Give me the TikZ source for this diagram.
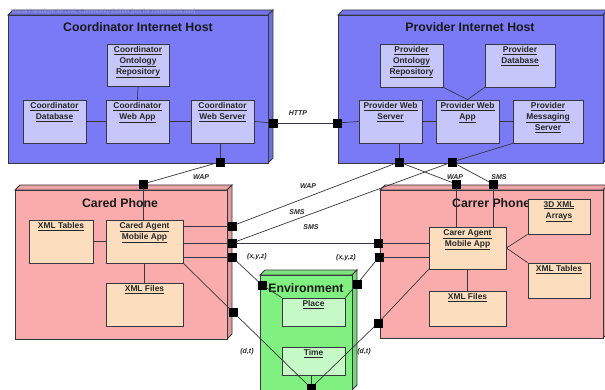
\documentclass[tikz,border=0pt]{standalone}
\usepackage{fontspec}
\setmainfont{Liberation Sans}
\usetikzlibrary{fit}

\definecolor{hostblue}{RGB}{122,122,246}
\definecolor{hostpart}{RGB}{198,198,250}
\definecolor{phonepink}{RGB}{250,172,172}
\definecolor{phonepart}{RGB}{252,222,190}
\definecolor{envgreen}{RGB}{128,240,128}
\definecolor{envpart}{RGB}{198,250,198}
\definecolor{edgegray}{RGB}{55,55,65}
\definecolor{markgray}{RGB}{150,150,205}

\tikzset{
  outline/.style={draw=edgegray, line width=0.8pt},
  wire/.style={draw=edgegray, line width=0.7pt},
  port/.style={fill=black, draw=black, minimum size=7.5pt, inner sep=0pt, line width=0.3pt},
  nodetitle/.style={font=\bfseries\fontsize{12.3}{14}\selectfont, text=black!90, inner sep=0pt},
  parttext/.style={font=\bfseries\fontsize{8.4}{11}\selectfont, align=center, text=black!85},
  wirelabel/.style={font=\bfseries\itshape\fontsize{7}{8}\selectfont, inner sep=0pt, text=black!85},
}

% deployment node drawn as a box with a top face and a right side face
\newcommand{\solidbox}[6]{%
  \draw[outline, fill=#6!95!black] (#2,#3) -- ++(5,-5) -- ({#4+5},{#3-5}) -- (#4,#3) -- cycle;
  \draw[outline, fill=#6!90!black] (#4,#3) -- ({#4+5},{#3-5}) -- ({#4+5},{#5-5}) -- (#4,#5) -- cycle;
  \node[outline, fill=#6, inner sep=0pt, fit={(#2,#3) (#4,#5)}] (#1) {};
}
% component box with its underlined name at the top
\newcommand{\partbox}[7]{%
  \node[outline, fill=#6, inner sep=0pt, fit={(#2,#3) (#4,#5)},
        label={[parttext, anchor=north, inner sep=2.5pt]north:{#7}}] (#1) {};
}

\begin{document}
\begin{tikzpicture}[x=1pt,y=-1pt]
\clip (0,0) rectangle (605,390);
\fill[white] (0,0) rectangle (605,390);

% ---- deployment nodes
\solidbox{chost}{8}{15}{268}{163}{hostblue}
\solidbox{phost}{338}{15}{603}{163}{hostblue}
\solidbox{cphone}{15}{190}{227}{339}{phonepink}
\solidbox{bphone}{380}{190}{603}{338}{phonepink}
\solidbox{env}{260}{275}{352}{390}{envgreen}

\node[font=\fontsize{6}{6}\selectfont, text=markgray, anchor=west, inner sep=0pt] (mark) at (11,11.5)
  {Visual Paradigm for UML Community Edition [not for commercial use]};

\node[nodetitle] (chostT) at (138,27) {Coordinator Internet Host};
\node[nodetitle] (phostT) at (470,27) {Provider Internet Host};
\node[nodetitle] (cphoneT) at (120,203) {Cared Phone};
\node[nodetitle, anchor=west] (bphoneT) at (452,203) {Carrer Phone};
\node[nodetitle] (envT) at (306,288) {Environment};

% ---- components
\partbox{cor}{107}{44}{169}{86}{hostpart}{\underline{Coordinator}\\\underline{Ontology}\\\underline{Repository}}
\partbox{cdb}{23}{100}{86}{143}{hostpart}{\underline{Coordinator}\\\underline{Database}}
\partbox{cwa}{106}{100}{169}{143}{hostpart}{\underline{Coordinator}\\\underline{Web App}}
\partbox{cws}{191}{100}{254}{143}{hostpart}{\underline{Coordinator}\\\underline{Web Server}}

\partbox{por}{380}{44}{443}{87}{hostpart}{\underline{Provider}\\\underline{Ontology}\\\underline{Repository}}
\partbox{pdb}{485}{44}{555}{87}{hostpart}{\underline{Provider}\\\underline{Database}}
\partbox{pws}{359}{100}{422}{143}{hostpart}{\underline{Provider Web}\\\underline{Server}}
\partbox{pwa}{436}{100}{499}{143}{hostpart}{\underline{Provider Web}\\\underline{App}}
\partbox{pms}{513}{100}{583}{143}{hostpart}{\underline{Provider}\\\underline{Messaging}\\\underline{Server}}

\partbox{cxt}{29}{220}{93}{263}{phonepart}{\underline{XML Tables}}
\partbox{cam}{106}{220}{183}{263}{phonepart}{\underline{Cared Agent}\\\underline{Mobile App}}
\partbox{cxf}{106}{283}{183}{326}{phonepart}{\underline{XML Files}}

\partbox{b3d}{528}{199}{590}{234}{phonepart}{\underline{3D XML}\\\underline{Arrays}}
\partbox{bam}{429}{227}{506}{269}{phonepart}{\underline{Carer Agent}\\\underline{Mobile App}}
\partbox{bxt}{528}{263}{590}{298}{phonepart}{\underline{XML Tables}}
\partbox{bxf}{429}{291}{506}{326}{phonepart}{\underline{XML Files}}

\partbox{place}{282}{298}{345}{326}{envpart}{\underline{Place}}
\partbox{time}{282}{347}{345}{375}{envpart}{\underline{Time}}

% ---- ports
\node[port] (pC1) at (273,123) {};
\node[port] (pC2) at (220,162) {};
\node[port] (pP1) at (337,123) {};
\node[port] (pP2) at (399,162) {};
\node[port] (pP3) at (452,162) {};
\node[port] (pA0) at (143,184) {};
\node[port] (pA1) at (232,226) {};
\node[port] (pA2) at (232,243) {};
\node[port] (pA3) at (232,257) {};
\node[port] (pA4) at (233,312) {};
\node[port] (pB0) at (456,184) {};
\node[port] (pB1) at (493,184) {};
\node[port] (pB2) at (378,243) {};
\node[port] (pB3) at (379,257) {};
\node[port] (pB4) at (378,323) {};
\node[port] (pE1) at (262,285) {};
\node[port] (pE2) at (357,284) {};
\node[port] (pE3) at (311,388) {};

% ---- connectors inside the hosts
\draw[wire] (cdb.east) -- (cwa.west);
\draw[wire] (cwa.east) -- (cws.west);
\draw[wire] (cor.south) -- (cwa.north);
\draw[wire] (cws.east) -- (pC1.center);
\draw[wire] (pC2.center) -- (pC2 |- cws.south);

\draw[wire] (pP1.center) -- (pws.west);
\draw[wire] (pws.east) -- (pwa.west);
\draw[wire] (pwa.east) -- (pms.west);
\draw[wire] (por.south east) -- (pwa.north);
\draw[wire] (pdb.south west) -- (pwa.north);
\draw[wire] (pP2.center) -- (pP2 |- pws.south);
\draw[wire] (pP3.center) -- (pms.south west);

% ---- connectors inside the phones
\draw[wire] (cxt.east) -- (cam.west);
\draw[wire] (cam.south) -- (cxf.north);
\draw[wire] (pA0.center) -- (pA0 |- cam.north);
\draw[wire] (pA1.center) -- (pA1 -| cam.east);
\draw[wire] (pA2.center) -- (pA2 -| cam.east);
\draw[wire] (pA3.center) -- (pA3 -| cam.east);

\draw[wire] (bam.east) -- (b3d.south west);
\draw[wire] (bam.east) -- (bxt.north west);
\draw[wire] (bam.south) -- (bxf.north);
\draw[wire] (pB0.center) -- (pB0 |- bam.north);
\draw[wire] (pB1.center) -- (pB1 |- bam.north);
\draw[wire] (pB2.center) -- (pB2 -| bam.west);
\draw[wire] (pB3.center) -- (pB3 -| bam.west);

% ---- links between the nodes
\draw[wire] (pC1.center) -- (pP1.center);
\draw[wire] (pC2.center) -- (pA0.center);
\draw[wire] (pP2.center) -- (pA1.center);
\draw[wire] (pP3.center) -- (pA2.center);
\draw[wire] (pA2.center) -- (pB2.center);
\draw[wire] (pP2.center) -- (pB0.center);
\draw[wire] (pP3.center) -- (pB1.center);

\draw[wire] (pA3.center) -- (pE1.center) -- (place.north west);
\draw[wire] (pB3.center) -- (pE2.center) -- (place.north east);
\draw[wire] (cam.south east) -- (pA4.center) -- (pE3.center);
\draw[wire] (bam.south west) -- (pB4.center) -- (pE3.center);
\draw[wire] (pE3.center) -- (pE3 |- time.south);

% ports drawn again over the link ends
\foreach \p in {pC1,pC2,pP1,pP2,pP3,pA0,pA1,pA2,pA3,pA4,pB0,pB1,pB2,pB3,pB4,pE1,pE2,pE3}
  \fill[black] (\p.south west) rectangle (\p.north east);

% ---- link labels
\node[wirelabel] (lhttp) at (298,113) {HTTP};
\node[wirelabel] (lwap1) at (201,177) {WAP};
\node[wirelabel] (lwap2) at (308,186) {WAP};
\node[wirelabel] (lsms1) at (297,212) {SMS};
\node[wirelabel] (lsms2) at (311,227) {SMS};
\node[wirelabel] (lwap3) at (455,177) {WAP};
\node[wirelabel] (lsms3) at (499,177) {SMS};
\node[wirelabel] (lxyz1) at (257,257) {(x,y,z)};
\node[wirelabel] (lxyz2) at (346,258) {(x,y,z)};
\node[wirelabel] (ldt1) at (247,352) {(d,t)};
\node[wirelabel] (ldt2) at (364,352) {(d,t)};
\end{tikzpicture}
\end{document}
